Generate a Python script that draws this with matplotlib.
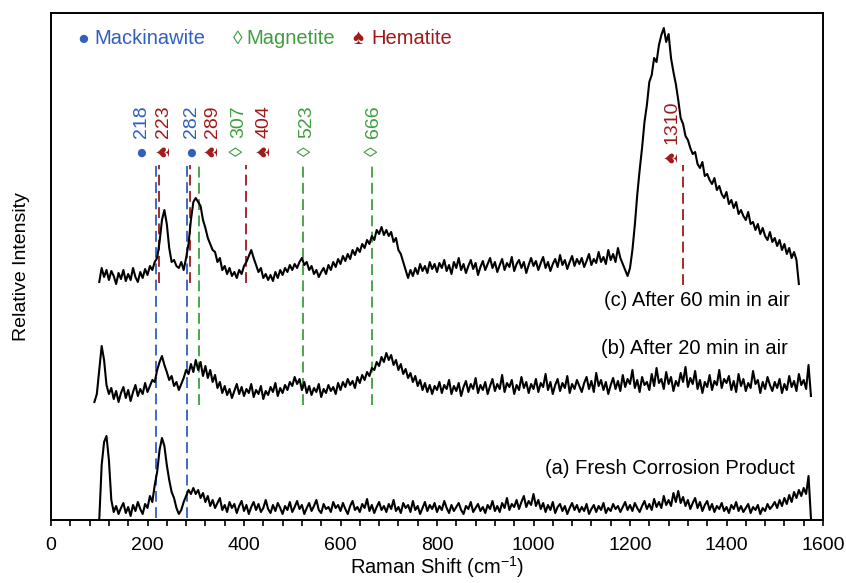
import numpy as np
import matplotlib
matplotlib.use("Agg")
import matplotlib.pyplot as plt

plt.rcParams['font.family'] = ['Liberation Sans', 'DejaVu Sans']
plt.rcParams['mathtext.fontset'] = 'custom'
plt.rcParams['mathtext.rm'] = 'Liberation Sans'
plt.rcParams['mathtext.it'] = 'Liberation Sans'

# ---------------- data (relative intensity, arbitrary units) ----------------
# (a) Fresh corrosion product: Raman shift from 100 cm-1, every 5 cm-1
start_a, step_a = 100, 5
spec_a = [0, 55, 78, 84, 60, 20, 8, 14, 6, 12, 17, 7, 13, 4, 15, 9, 18, 11, 6, 16,
          12, 24, 18, 35, 48, 70, 82, 74, 55, 40, 28, 22, 12, 6, 10, 18, 24, 30, 26, 32,
          26, 30, 22, 27, 18, 24, 14, 20, 12, 17, 22, 10, 15, 8, 18, 12, 16, 7, 14, 19,
          9, 15, 6, 13, 18, 10, 16, 8, 12, 20, 11, 7, 15, 9, 17, 12, 6, 14, 10, 18,
          8, 13, 19, 11, 15, 6, 12, 17, 9, 14, 20, 10, 7, 16, 11, 13, 8, 18, 12, 15,
          9, 17, 11, 6, 14, 19, 10, 13, 8, 16, 12, 21, 9, 15, 7, 13, 18, 10, 14, 8,
          16, 11, 20, 9, 13, 7, 17, 12, 15, 8, 19, 10, 14, 6, 12, 18, 9, 15, 11, 17,
          8, 14, 10, 19, 12, 7, 15, 9, 13, 17, 10, 6, 14, 11, 18, 8, 12, 16, 9, 13,
          7, 15, 11, 19, 9, 14, 8, 17, 12, 22, 10, 16, 13, 20, 11, 18, 24, 13, 19, 15,
          26, 14, 20, 11, 17, 8, 15, 10, 18, 7, 13, 16, 9, 14, 6, 12, 17, 10, 15, 8,
          13, 9, 16, 6, 11, 15, 8, 14, 10, 17, 7, 12, 9, 16, 11, 14, 8, 13, 18, 10,
          15, 9, 17, 12, 8, 14, 19, 11, 16, 10, 21, 13, 18, 12, 24, 15, 20, 14, 27, 18,
          29, 17, 23, 14, 20, 11, 17, 22, 12, 18, 9, 15, 19, 10, 16, 8, 14, 11, 17, 9,
          13, 7, 15, 11, 18, 9, 14, 8, 12, 16, 7, 13, 10, 15, 6, 12, 9, 16, 11, 14,
          18, 12, 20, 14, 22, 16, 25, 18, 28, 22, 30, 24, 32, 26, 44, 2]

# (b) After 20 min in air: from 90 cm-1, every 5 cm-1
start_b, step_b = 90, 5
spec_b = [118, 126,
          150, 174, 160, 135, 126, 132, 121, 129, 118, 127, 133, 122, 130, 119, 128, 135, 124, 131, 126, 137,
          128, 134, 140, 138, 150, 158, 164, 155, 148, 140, 144, 134, 138, 130, 136, 142, 150, 146, 156, 148,
          160, 150, 158, 144, 154, 142, 150, 138, 145, 132, 138, 127, 134, 125, 131, 122, 129, 136, 126, 133,
          124, 131, 127, 136, 123, 130, 126, 134, 121, 129, 125, 133, 128, 137, 124, 132, 127, 135, 130, 138,
          134, 143, 136, 141, 130, 138, 127, 134, 125, 132, 128, 136, 123, 131, 127, 135, 129, 133, 126, 137,
          130, 138, 133, 141, 135, 139, 132, 143, 137, 145, 140, 148, 144, 152, 150, 158, 154, 163, 158, 167,
          160, 165, 155, 160, 150, 156, 146, 151, 142, 147, 138, 144, 134, 140, 130, 137, 128, 135, 126, 134,
          130, 138, 127, 135, 131, 140, 126, 134, 129, 137, 124, 133, 139, 128, 136, 131, 142, 127, 135, 130,
          138, 126, 134, 141, 129, 136, 131, 145, 128, 137, 133, 140, 126, 135, 130, 143, 132, 138, 127, 136,
          131, 141, 128, 137, 133, 146, 130, 138, 126, 135, 141, 129, 137, 132, 144, 127, 136, 131, 140, 134,
          128, 137, 143, 131, 139, 128, 147, 134, 140, 130, 138, 126, 135, 142, 131, 139, 129, 145, 133, 141,
          136, 150, 132, 140, 128, 143, 135, 138, 130, 146, 134, 152, 137, 141, 131, 148, 136, 143, 129, 139,
          134, 147, 138, 153, 133, 142, 136, 149, 131, 140, 127, 138, 133, 145, 130, 139, 135, 150, 132, 141,
          137, 144, 130, 139, 128, 146, 134, 141, 129, 137, 132, 149, 136, 140, 127, 138, 131, 143, 135, 129,
          138, 132, 141, 127, 136, 130, 144, 133, 139, 129, 146, 135, 140, 131, 155, 124]

# (c) After 60 min in air: from 100 cm-1, every 5 cm-1
start_c, step_c = 100, 5
spec_c = [238, 252, 243, 250, 240, 249, 244, 236, 247, 241, 250, 239, 246, 240, 252, 243, 238, 248, 242, 251,
          245, 254, 250, 258, 262, 278, 300, 310, 296, 272, 258, 260, 254, 252, 258, 250, 262, 276, 300, 318,
          322, 318, 314, 300, 292, 282, 276, 270, 268, 258, 262, 250, 254, 246, 252, 244, 248, 242, 250, 246,
          254, 258, 264, 270, 262, 255, 248, 252, 242, 246, 240, 245, 239, 248, 242, 250, 245, 252, 248, 255,
          250, 256, 252, 258, 262, 255, 258, 250, 254, 246, 250, 243, 248, 252, 246, 255, 250, 258, 253, 261,
          256, 264, 259, 266, 261, 270, 265, 272, 268, 276, 272, 280, 276, 284, 280, 290, 286, 293, 285, 290,
          284, 288, 278, 282, 270, 266, 258, 250, 242, 250, 244, 252, 246, 256, 249, 254, 247, 258, 251, 256,
          248, 257, 252, 260, 249, 255, 246, 258, 252, 262, 250, 256, 247, 254, 260, 251, 257, 245, 253, 259,
          250, 256, 262, 252, 258, 248, 255, 261, 250, 257, 253, 263, 249, 256, 260, 252, 258, 247, 255, 262,
          254, 259, 250, 257, 263, 252, 258, 249, 256, 261, 253, 265, 255, 260, 251, 258, 264, 254, 261, 256,
          262, 253, 259, 266, 255, 261, 257, 268, 258, 263, 256, 270, 260, 266, 258, 272, 262, 256, 250, 244,
          252, 270, 295, 325, 350, 372, 398, 415, 438, 445, 462, 458, 475, 485, 492, 478, 486, 462, 448, 436,
          420, 402, 396, 384, 380, 372, 366, 368, 356, 352, 358, 344, 346, 340, 336, 342, 330, 334, 326, 322,
          328, 316, 320, 312, 318, 306, 310, 304, 300, 308, 296, 298, 290, 296, 286, 292, 284, 280, 288, 278,
          282, 274, 280, 270, 276, 266, 272, 262, 268, 260, 236]

peak_pos = [218, 223, 282, 289, 307, 404, 523, 666, 1310]
peak_phase = ['Mackinawite', 'Hematite', 'Mackinawite', 'Hematite', 'Magnetite',
              'Hematite', 'Magnetite', 'Magnetite', 'Hematite']
phases = ['Mackinawite', 'Magnetite', 'Hematite']
curve_labels = ['(a) Fresh Corrosion Product', '(b) After 20 min in air', '(c) After 60 min in air']

# ---------------- styling / layout ----------------
phase_color = {'Mackinawite': '#2F5FBF', 'Magnetite': '#3E9E3E', 'Hematite': '#A01A1A'}
phase_sym = {'Mackinawite': '\u25CF', 'Magnetite': '\u25CA', 'Hematite': '\u2660'}
sym_size = {'Mackinawite': 14, 'Magnetite': 14, 'Hematite': 15}
line_bottom = {'Mackinawite': 2, 'Magnetite': 115, 'Hematite': 237}
label_x = [188, 234, 292, 334, 389, 441, 530, 669, 1287]

fig = plt.figure(figsize=(8.46, 5.83), dpi=100)
ax = fig.add_axes([51/846, 1-520/583, 772/846, 507/583])
ax.set_xlim(0, 1600)
ax.set_ylim(0, 507)

for spec, s0, st in [(spec_a, start_a, step_a), (spec_b, start_b, step_b), (spec_c, start_c, step_c)]:
    xs = s0 + st*np.arange(len(spec))
    ax.plot(xs, spec, color='black', lw=1.5, zorder=3)

for p, ph, lx in zip(peak_pos, peak_phase, label_x):
    bottom = 235 if p == 1310 else line_bottom[ph]
    ax.plot([p, p], [bottom, 355], color=phase_color[ph], lw=1.3, ls=(0, (6, 3)), zorder=2)
    shift = -6 if p == 1310 else 0
    ax.text(lx, 382 + shift, str(p), rotation=90, ha='center', va='bottom',
            color=phase_color[ph], fontsize=14, zorder=4)
    ax.text(lx, 369 + shift, phase_sym[ph], rotation=90, ha='center', va='center',
            color=phase_color[ph], fontsize=sym_size[ph], zorder=4)

leg_sym_x = [66, 386, 636]
leg_txt_x = [90, 405, 663]
for ph, sx, tx in zip(phases, leg_sym_x, leg_txt_x):
    ax.text(sx, 476, phase_sym[ph], color=phase_color[ph], fontsize=sym_size[ph],
            ha='center', va='baseline')
    ax.text(tx, 476, ph, color=phase_color[ph], fontsize=14.5, ha='left', va='baseline')

for lab, (lx, ly) in zip(curve_labels, [(1542, 52), (1527, 172), (1531, 220)]):
    ax.text(lx, ly, lab, ha='right', va='center', fontsize=14.5, color='black')

ax.set_yticks([])
ax.set_xticks(np.arange(0, 1601, 200))
ax.set_xticks(np.arange(0, 1601, 40), minor=True)
ax.tick_params(axis='x', which='both', direction='out', length=4, width=1.2,
               labelsize=14, pad=8)
for s in ax.spines.values():
    s.set_linewidth(1.4)
ax.set_xlabel('Raman Shift (cm$^{-1}$)', fontsize=14.5, labelpad=0)
ax.set_ylabel('Relative Intensity', fontsize=14)
ax.yaxis.set_label_coords(-0.027, 0.5)

fig.savefig('out.png', dpi=100)
